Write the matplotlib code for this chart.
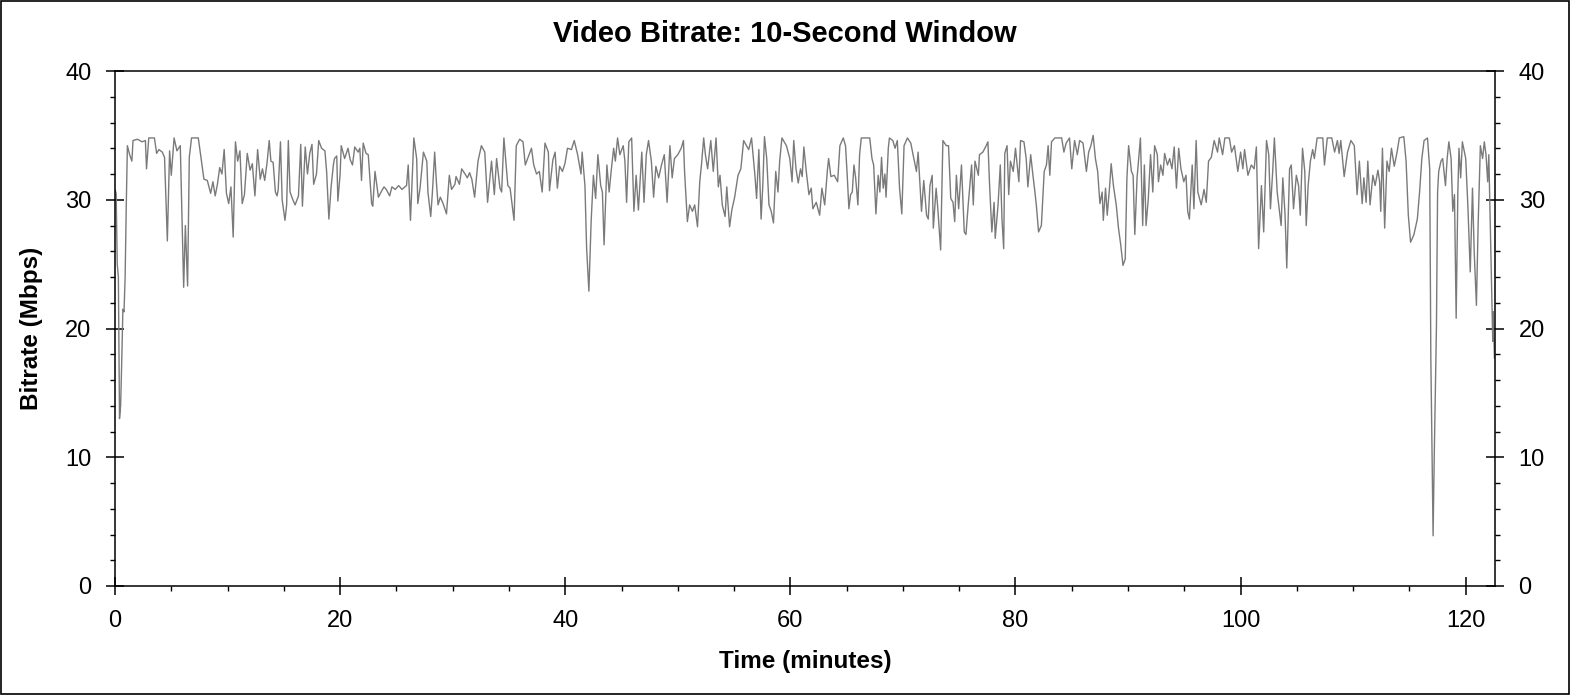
import matplotlib.pyplot as plt
from matplotlib.patches import Rectangle
from matplotlib.ticker import MultipleLocator

# time in minutes / bitrate in Mbps
minutes = [
    0.0, 0.1, 0.2, 0.3, 0.4, 0.5, 0.6, 0.7, 0.8, 0.9, 1.0, 1.1, 1.3, 1.5, 1.6, 2.0, 2.4, 2.7, 2.8, 3.0,
    3.5, 3.7, 3.9, 4.2, 4.4, 4.65, 4.85, 5.0, 5.25, 5.5, 5.8, 6.1, 6.25, 6.45, 6.6, 6.8, 7.4, 7.6, 7.9, 8.2,
    8.5, 8.7, 8.9, 9.1, 9.3, 9.5, 9.7, 9.9, 10.1, 10.3, 10.5, 10.7, 10.9, 11.1, 11.3, 11.5, 11.75, 12.0, 12.2,
    12.43, 12.67, 12.9, 13.1, 13.3, 13.5, 13.7, 13.85, 14.05, 14.25, 14.4, 14.5, 14.7, 14.85, 15.1, 15.25,
    15.4, 15.55, 15.8, 16.0, 16.3, 16.5, 16.65, 16.9, 17.1, 17.3, 17.5, 17.65, 17.9, 18.1, 18.35, 18.65,
    18.8, 19.0, 19.2, 19.4, 19.5, 19.7, 19.8, 20.0, 20.1, 20.4, 20.7, 20.9, 21.1, 21.3, 21.6, 21.75, 21.9,
    22.05, 22.3, 22.5, 22.8, 22.9, 23.1, 23.4, 23.7, 23.9, 24.1, 24.4, 24.6, 24.9, 25.2, 25.5, 25.75,
    25.9, 26.05, 26.25, 26.55, 26.8, 26.9, 27.1, 27.4, 27.7, 27.8, 28.05, 28.2, 28.4, 28.55, 28.7, 28.9,
    29.15, 29.45, 29.7, 29.9, 30.2, 30.3, 30.6, 30.8, 31.1, 31.3, 31.5, 31.7, 31.95, 32.25, 32.55, 32.85,
    33.1, 33.45, 33.7, 33.9, 34.2, 34.35, 34.55, 34.9, 35.1, 35.45, 35.65, 35.95, 36.25, 36.45, 36.7, 37.0,
    37.2, 37.45, 37.7, 37.95, 38.2, 38.5, 38.6, 38.9,
    39.1, 39.3, 39.5, 39.75, 39.97, 40.2, 40.55, 40.8, 41.1, 41.4, 41.5, 41.75, 41.9, 42.1, 42.3, 42.5,
    42.7, 42.9, 43.15, 43.3, 43.45, 43.7, 43.9, 44.1, 44.3, 44.45, 44.65, 44.85, 45.15, 45.3, 45.45, 45.65,
    45.9, 46.1, 46.3, 46.5, 46.8, 47.0, 47.2, 47.4, 47.65, 47.85, 48.05, 48.3, 48.55, 48.8, 49.05, 49.3,
    49.5, 49.7, 50.0, 50.3, 50.5, 50.6, 50.85, 51.05, 51.3, 51.5, 51.75, 51.95, 52.1, 52.3,
    52.45, 52.65, 52.93, 53.15, 53.4, 53.6, 53.75, 53.95, 54.2, 54.35, 54.6, 54.8, 55.05, 55.35, 55.6,
    55.85, 56.1, 56.3, 56.55, 56.85, 57.0, 57.2, 57.4, 57.55, 57.7, 57.9, 58.1, 58.3, 58.5, 58.7, 58.9,
    59.05, 59.25, 59.65, 59.95, 60.15, 60.3, 60.5, 60.7, 60.9, 61.05, 61.2, 61.4, 61.65, 61.85, 62.0,
    62.3, 62.6, 62.8, 63.05, 63.3, 63.4, 63.6, 63.9, 64.2, 64.4, 64.7, 64.9, 65.05, 65.2, 65.35, 65.5, 65.65,
    65.8, 66.0, 66.15, 66.3, 67.05, 67.25, 67.4, 67.6, 67.8, 67.95, 68.1, 68.25, 68.4, 68.5, 68.7, 68.8,
    69.1, 69.3, 69.5, 69.7, 69.9, 70.1, 70.4, 70.7, 70.9, 71.2, 71.35, 71.65, 71.85, 72.1, 72.25, 72.4,
    72.6, 72.7, 72.95, 73.1, 73.35, 73.55, 73.85, 74.05, 74.25, 74.45, 74.6, 74.75, 74.95, 75.2, 75.45,
    75.6, 75.8, 76.1, 76.25, 76.4, 76.7, 76.8, 77.1, 77.4, 77.55, 77.7, 77.9, 78.1, 78.2, 78.45, 78.65,
    78.8, 78.95,
    79.05, 79.25, 79.4, 79.55, 79.8, 80.0, 80.3, 80.45, 80.75, 80.95, 81.1, 81.35, 81.55, 81.7, 81.85,
    82.05, 82.3, 82.55, 82.75, 82.9, 83.05, 83.2, 83.5, 84.1, 84.3, 84.5, 84.8, 85.0, 85.25, 85.5, 85.7,
    86.0, 86.3, 86.5, 86.7, 86.9, 87.1, 87.3, 87.5, 87.7, 87.8, 88.0, 88.15, 88.35, 88.5, 88.7, 88.95,
    89.15, 89.35, 89.55, 89.75, 89.9, 90.05, 90.3, 90.45, 90.6, 90.8, 91.1, 91.3, 91.45, 91.6, 91.8, 92.0,
    92.2,
    92.36, 92.6, 92.7, 92.9, 93.1, 93.25, 93.5, 93.7, 93.9, 94.1, 94.3, 94.5, 94.7, 94.95, 95.15, 95.3,
    95.45, 95.7, 95.85, 96.05, 96.2, 96.5, 96.75, 96.95, 97.15, 97.4, 97.65, 97.95, 98.1, 98.4, 98.6, 99.0,
    99.2, 99.45, 99.75, 100.0, 100.2, 100.35, 100.65, 100.95, 101.2, 101.4, 101.6, 101.85, 102.05, 102.3,
    102.5, 102.65, 102.85, 103.0, 103.25, 103.45, 103.6, 103.75, 103.95, 104.1, 104.35, 104.5, 104.7,
    104.95, 105.15, 105.3, 105.5,
    105.7, 105.83, 106.0, 106.2, 106.4, 106.55, 106.8, 107.3, 107.45, 107.7, 108.1, 108.35, 108.6, 108.75,
    108.9, 109.2, 109.5, 109.8, 110.1, 110.35, 110.55, 110.8, 110.95, 111.15, 111.3, 111.5, 111.75,
    111.95, 112.2, 112.35, 112.45, 112.6, 112.8, 113.0, 113.2, 113.4, 113.65, 113.9, 114.1, 114.5, 114.7,
    114.9, 115.1, 115.4, 115.7, 115.9, 116.1, 116.3, 116.6, 116.8, 116.9, 117.1, 117.2, 117.4, 117.5,
    117.6, 117.8, 117.95, 118.2, 118.35, 118.5, 118.7, 118.85, 119.0, 119.15, 119.3, 119.4, 119.55,
    119.7, 120.0, 120.2, 120.4, 120.6, 120.75, 120.95, 121.1, 121.3, 121.5, 121.65, 121.8, 121.95,
    122.05, 122.25, 122.4, 122.45, 122.55,
]

bitrate = [
    30.8, 30.5, 25.0, 24.0, 13.0, 14.0, 17.5, 21.5, 21.3, 24.0, 29.5, 34.2, 33.5, 33.0, 34.6, 34.7, 34.5, 34.6, 32.4, 34.8,
    34.8, 33.6, 33.9, 33.7, 33.3, 26.8, 33.8, 31.9, 34.8, 33.8, 34.2, 23.2, 28.0, 23.3, 33.3, 34.8, 34.8, 33.5, 31.6, 31.5,
    30.5, 31.4, 30.3, 31.2, 32.5, 32.0, 33.9, 30.5, 29.7, 31.0, 27.1, 34.5, 33.0, 33.8, 29.7, 30.4, 33.6, 32.3, 32.8,
    30.3, 33.9, 31.6, 32.4, 31.5, 32.8, 34.6, 33.0, 32.9, 30.6, 30.3, 30.8, 34.5, 30.0, 28.4, 29.6,
    34.6, 30.6, 30.0, 29.6, 30.3, 34.3, 29.5, 34.1, 32.0, 33.6, 34.3, 31.2, 32.0, 34.6, 34.0, 33.8,
    32.2, 28.5, 31.0, 32.7, 33.2, 33.4, 29.9, 32.0, 34.2, 33.2, 34.0, 33.1, 32.7, 34.1, 33.7, 34.0, 31.5,
    34.4, 33.6, 33.5, 29.7, 29.5, 32.2, 30.2, 30.7, 31.0, 30.8, 30.3, 31.0, 30.8, 31.1, 30.8, 31.0,
    31.1, 32.7, 28.4, 34.8, 33.2, 29.7, 30.9, 33.7, 33.0, 30.6, 28.7, 30.6, 33.7, 31.4, 29.6, 30.2,
    29.7, 28.9, 31.9, 30.8, 31.2, 31.8, 31.2, 32.4, 32.0, 31.7, 32.1, 31.6, 30.2, 33.0, 34.2, 33.7,
    29.8, 33.0, 30.4, 33.2, 30.9, 30.6, 34.8, 31.1, 30.9, 28.4, 34.2, 34.7, 34.5, 32.7, 33.3, 34.0,
    32.7, 32.0, 32.2, 30.6, 34.4, 33.7, 30.7, 33.1,
    33.7, 30.9, 32.6, 32.2, 32.8, 34.0, 33.9, 34.6, 33.5, 32.0, 33.7, 31.1, 26.2, 22.9, 28.3, 31.9,
    30.1, 33.5, 31.1, 30.6, 26.5, 32.7, 30.6, 32.4, 34.0, 33.0, 34.8, 33.5, 34.2, 33.0, 29.8, 34.5,
    34.8, 29.1, 31.9, 29.2, 33.7, 29.8, 33.5, 34.6, 33.0, 30.2, 32.6, 31.7, 32.7, 33.5, 29.8, 34.2,
    31.7, 33.2, 33.5, 34.0, 34.6, 32.2, 28.3, 29.6, 29.1, 29.6, 27.9, 31.4, 32.7, 34.8,
    33.5, 32.4, 34.6, 32.2, 34.8, 31.0, 31.9, 29.6, 28.7, 31.0, 27.9, 29.2, 30.2, 31.9, 32.4,
    34.6, 34.2, 33.9, 34.8, 31.9, 30.1, 33.9, 28.5, 31.1, 34.9, 33.2, 29.6, 29.1, 28.2, 32.2, 30.6,
    33.0, 34.8, 34.2, 33.2, 31.4, 34.6, 32.4, 31.3, 32.4, 31.8, 34.1, 32.3, 30.4, 30.9, 29.3,
    29.8, 28.8, 30.9, 29.6, 32.4, 33.2, 31.8, 31.9, 31.4, 34.2, 34.8, 34.2, 31.9, 29.3, 30.4, 30.6, 32.7,
    31.7, 29.6, 33.5, 34.8, 34.8, 33.2, 32.7, 28.9, 31.9, 30.6, 33.3, 30.9, 32.0, 30.2, 34.0, 34.8,
    34.6, 34.0, 34.6, 30.9, 28.9, 34.2, 34.8, 34.4, 33.5, 32.2, 33.7, 29.1, 31.5, 28.8, 28.5, 31.1,
    31.9, 27.8, 30.9, 29.3, 26.1, 34.6, 34.2, 34.2, 30.1, 29.8, 28.3, 31.9, 29.3, 32.7, 27.5,
    27.3, 29.6, 32.7, 29.6, 33.0, 31.9, 33.5, 33.7, 34.2, 34.5, 31.1, 27.5, 29.8, 27.0, 29.6, 32.7,
    28.5, 26.2,
    33.6, 34.2, 30.4, 33.0, 32.2, 34.0, 31.4, 34.6, 34.5, 33.2, 31.0, 33.5, 31.9, 30.8, 29.6,
    27.5, 28.0, 32.2, 32.7, 34.2, 31.9, 34.5, 34.8, 34.8, 33.7, 34.4, 34.8, 32.4, 34.6, 33.5, 34.6,
    34.4, 32.2, 33.7, 34.2, 35.0, 33.2, 32.2, 29.7, 30.6, 28.4, 30.9, 28.8, 30.9, 32.8, 31.1, 29.6,
    27.8, 26.5, 24.9, 25.4, 31.7, 34.2, 32.2, 31.9, 27.3, 31.7, 34.8, 28.0, 32.7, 28.0, 30.1, 33.5,
    30.6,
    34.2, 33.5, 31.4, 32.7, 31.9, 33.6, 32.7, 33.2, 32.4, 34.1, 30.9, 34.0, 32.4, 31.4, 31.9, 29.1,
    28.5, 32.7, 29.3, 34.6, 30.6, 29.6, 30.8, 29.8, 33.0, 33.3, 34.6, 33.7, 34.8, 33.5, 34.8, 34.8,
    33.7, 34.2, 32.2, 33.7, 32.4, 33.9, 31.9, 32.7, 32.4, 34.1, 26.2, 31.1, 27.5, 34.6,
    33.5, 29.3, 32.2, 34.8, 30.6, 29.1, 28.0, 31.7, 28.8, 24.7, 32.4, 32.7, 29.3,
    31.9, 31.1, 28.8, 34.0,
    32.2, 28.0, 31.1, 33.0, 33.9, 33.2, 34.8, 34.8, 32.7, 34.8, 34.8, 33.7, 34.6, 33.6,
    34.6, 31.8, 33.7, 34.6, 34.2, 30.4, 33.0, 29.7, 31.7, 29.8, 33.0, 29.6, 31.9,
    31.1, 32.3, 31.4, 29.1, 34.0, 27.8, 33.0, 32.2, 34.0, 32.6, 33.7, 34.8, 34.9, 33.0,
    28.8, 26.7, 27.3, 28.5, 30.6, 33.2, 34.6, 34.8, 32.4, 17.7, 3.9, 9.9, 20.3, 30.6,
    32.2, 33.0, 33.2, 31.1, 33.2, 34.5, 33.2, 29.1, 30.4, 20.8, 30.6, 34.0, 31.7,
    34.5, 33.2, 29.3, 24.4, 30.9, 26.0, 21.8, 28.0, 34.2, 33.2, 34.5, 33.5, 31.4,
    33.5, 25.4, 19.0, 21.3, 17.7,
]

plt.rcParams["font.family"] = ["Liberation Sans", "DejaVu Sans"]

fig = plt.figure(figsize=(15.7, 6.95), dpi=100)
ax = fig.add_axes([115 / 1570, 1 - 586 / 695, 1380 / 1570, 515 / 695])

ax.plot(minutes, bitrate, color="#7a7a7a", linewidth=1.0)

ax.set_xlim(0, 122.6)
ax.set_ylim(0, 40)
ax.xaxis.set_major_locator(MultipleLocator(20))
ax.xaxis.set_minor_locator(MultipleLocator(5))
ax.yaxis.set_major_locator(MultipleLocator(10))
ax.yaxis.set_minor_locator(MultipleLocator(2))

ax.tick_params(which="major", direction="inout", length=13, width=1.1, pad=10.5,
               labelsize=17, right=True, labelright=True, top=False)
ax.tick_params(which="minor", direction="out", length=3.6, width=1.0,
               right=True, top=False)

for side in ax.spines.values():
    side.set_linewidth(1.1)

# title is centred on the whole figure, not on the axes
fig.text(0.5, 1 - 34 / 695, "Video Bitrate: 10-Second Window", fontsize=21,
         fontweight="bold", ha="center", va="center")
ax.set_xlabel("Time (minutes)", fontsize=17.5, fontweight="bold")
ax.set_ylabel("Bitrate (Mbps)", fontsize=17.5, fontweight="bold")
ax.xaxis.set_label_coords(0.5, -0.124)
ax.yaxis.set_label_coords(-0.052, 0.5)

fig.patches.append(Rectangle((0.0004, 0.0008), 0.9991, 0.998, transform=fig.transFigure,
                             fill=False, edgecolor="black", linewidth=1.2))

fig.savefig("out.png", dpi=100)
